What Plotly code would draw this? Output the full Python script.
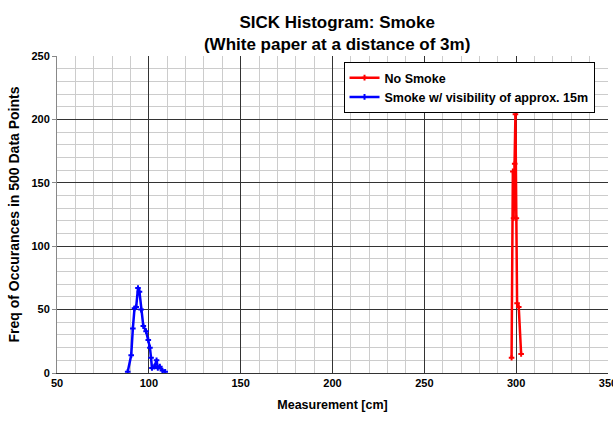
import plotly.graph_objects as go

# Data
no_smoke_x = [297.5, 298.2, 298.6, 299.2, 299.6, 300.1, 300.5, 301.4, 302.7]
no_smoke_y = [12, 159, 122, 165, 204, 122, 55, 52, 15]

smoke_x = [88.5, 90.4, 91.3, 92.2, 93.1, 94.1, 94.9, 95.8, 97.0, 98.5, 99.7,
           100.6, 101.2, 101.7, 103.0, 104.2, 104.9, 106.0, 107.4, 108.9]
smoke_y = [1, 14, 35, 51, 52, 67, 64, 50, 37, 33, 26,
           20, 12, 4, 5, 10, 4, 5, 2, 1]

x_ticks = [50, 100, 150, 200, 250, 300, 350]
y_ticks = [0, 50, 100, 150, 200, 250]

font_family = "Liberation Sans, Arial, sans-serif"

fig = go.Figure()
fig.add_trace(go.Scatter(
    x=no_smoke_x, y=no_smoke_y, mode="lines+markers", name="No Smoke",
    line=dict(color="#ff0000", width=2.5),
    marker=dict(symbol="cross-thin", size=4, line=dict(color="#ff0000", width=2)),
))
fig.add_trace(go.Scatter(
    x=smoke_x, y=smoke_y, mode="lines+markers", name="Smoke w/ visibility of approx. 15m",
    line=dict(color="#0000ff", width=2.5),
    marker=dict(symbol="cross-thin", size=4, line=dict(color="#0000ff", width=2)),
))

fig.update_layout(
    width=613, height=424,
    margin=dict(l=57, r=5, t=56, b=51),
    paper_bgcolor="white", plot_bgcolor="white",
    font=dict(family=font_family, size=11, color="black"),
    title=dict(
        text="<b>SICK Histogram: Smoke</b><br><b>(White paper at a distance of 3m)</b>",
        x=0.55, xanchor="center", yref="container", y=0.935, yanchor="middle",
        font=dict(size=17, family=font_family, color="black"),
    ),
    legend=dict(
        x=0.52, y=0.981, xanchor="left", yanchor="top",
        bgcolor="white", bordercolor="black", borderwidth=1,
        font=dict(size=12.5, family=font_family, color="black", weight="bold"),
        tracegroupgap=0, itemwidth=30,
    ),
    showlegend=True,
)

fig.update_xaxes(
    range=[50, 350], tickvals=x_ticks, ticktext=[f"<b>{v}</b>" for v in x_ticks],
    showgrid=True, gridcolor="#333333", gridwidth=1,
    minor=dict(dtick=10, showgrid=True, gridcolor="#cccccc", gridwidth=1, tick0=50),
    showline=True, linecolor="#333333", linewidth=1,
    zeroline=False, ticks="", automargin=False, ticklabeloverflow="allow",
    title=dict(text="<b>Measurement [cm]</b>", font=dict(size=12.5), standoff=12),
    tickfont=dict(size=11),
)
fig.update_yaxes(
    range=[0, 250], tickvals=y_ticks, ticktext=[f"<b>{v}</b>" for v in y_ticks],
    showgrid=True, gridcolor="#333333", gridwidth=1,
    minor=dict(dtick=10, showgrid=True, gridcolor="#cccccc", gridwidth=1),
    showline=True, linecolor="#888888", linewidth=1,
    zeroline=False, ticks="outside", ticklen=4, tickcolor="#888888", automargin=False,
    title=dict(text="<b>Freq of Occurances in 500 Data Points</b>", font=dict(size=14), standoff=8),
    tickfont=dict(size=11),
)

fig.write_html("out.html", config={"displayModeBar": False},
               post_script="document.body.style.margin='0px';")
